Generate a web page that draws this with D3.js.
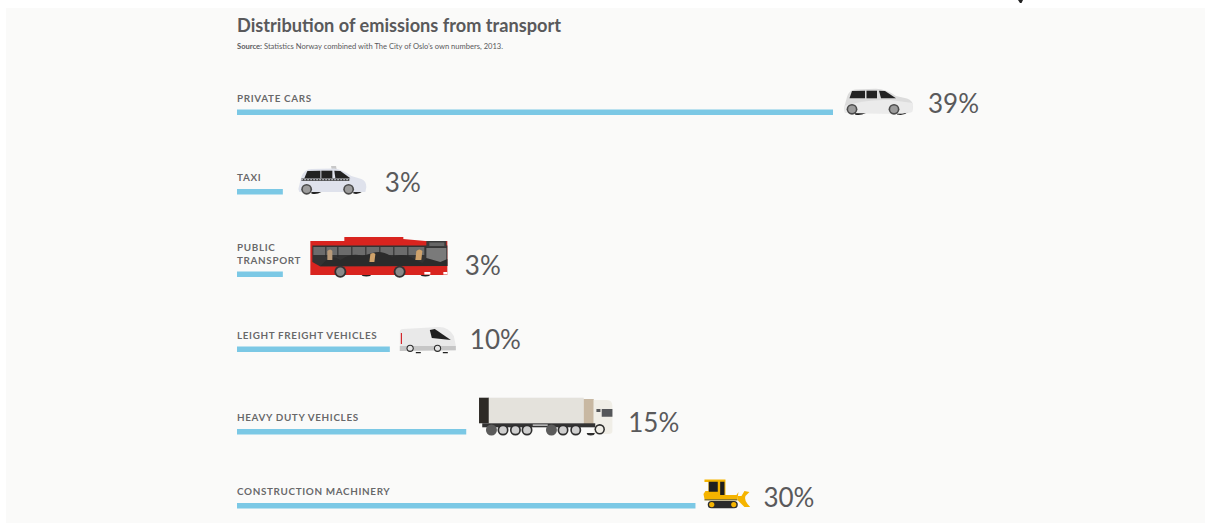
<!DOCTYPE html>
<html>
<head>
<meta charset="utf-8">
<script src="https://cdn.jsdelivr.net/npm/d3@7/dist/d3.min.js"></script>
<style>
  html, body { margin: 0; padding: 0; background: #fff; }
  svg { display: block; }
  text { font-family: "Lato", "Open Sans", sans-serif; fill: #59595b; }
</style>
</head>
<body>
<svg id="chart" width="1205" height="523"></svg>
<script>
// Share of transport emissions per category, in percent
const categories = ["PRIVATE CARS", "TAXI", "PUBLIC TRANSPORT", "LEIGHT FREIGHT VEHICLES", "HEAVY DUTY VEHICLES", "CONSTRUCTION MACHINERY"];
const shares = [39, 3, 3, 10, 15, 30];
const titleText = "Distribution of emissions from transport";
const sourceLead = "Source:";
const sourceText = " Statistics Norway combined with The City of Oslo’s own numbers, 2013.";

const W = 1205, H = 523;
const barHeight = 5.5;

// Row tops, vehicle placement and percent label placement relative to each bar
const rowTops = [109.5, 189, 271.5, 346.5, 429, 503];
const iconDrawers = [drawCar, drawTaxi, drawBus, drawVan, drawTruck, drawDozer];
const iconDx = [11, 15.5, 27.5, 9, 12.5, 8];
const iconDy = [-21.5, -23, -34.5, -19.5, -32, -24];
const valueDx = [95, 102, 182, 80, 162, 68];
const valueDy = [3.5, 3, 3.5, 2.5, 3, 4];

const svg = d3.select("#chart");
const x = d3.scaleLinear().domain([0, 39]).range([237, 833]);
const y = d3.scaleOrdinal().domain(categories).range(rowTops);

// Panel
svg.append("rect").attr("x", 6).attr("y", 8).attr("width", W - 6).attr("height", H - 8).attr("fill", "#fafaf9");
svg.append("path").attr("d", "M1018,0h5l-1.5,3h-1.5z").attr("fill", "#222");

// Heading
svg.append("text").attr("x", 237).attr("y", 32).attr("font-size", 18.5).attr("font-weight", 700)
  .attr("textLength", 324).attr("lengthAdjust", "spacingAndGlyphs").text(titleText);
const src = svg.append("text").attr("x", 237).attr("y", 48.5).attr("font-size", 7.4)
  .attr("textLength", 266).attr("lengthAdjust", "spacingAndGlyphs");
src.append("tspan").attr("font-weight", 700).text(sourceLead);
src.append("tspan").text(sourceText);

// Rows
const rows = svg.selectAll("g.row").data(categories.map((c, i) => ({ c, v: shares[i], i })))
  .join("g").attr("class", "row");

rows.append("rect")
  .attr("x", x(0))
  .attr("y", d => y(d.c))
  .attr("width", d => x(d.v) - x(0))
  .attr("height", barHeight)
  .attr("fill", "#7bc8e5");

rows.each(function (d) {
  const g = d3.select(this);
  const words = d.c === "PUBLIC TRANSPORT" ? ["PUBLIC", "TRANSPORT"] : [d.c];
  words.forEach((w, k) => {
    g.append("text")
      .attr("x", x(0))
      .attr("y", y(d.c) - 8 - (words.length - 1 - k) * 13)
      .attr("font-size", 9.9)
      .attr("font-weight", 700)
      .attr("letter-spacing", 0.65)
      .attr("fill-opacity", 0.92)
      .text(w);
  });
  const icon = g.append("g")
    .attr("transform", `translate(${x(d.v) + iconDx[d.i]},${y(d.c) + iconDy[d.i]})`);
  iconDrawers[d.i](icon);
  g.append("text")
    .attr("x", x(d.v) + valueDx[d.i])
    .attr("y", y(d.c) + valueDy[d.i])
    .attr("font-size", 26)
    .text(d.v + "%");
});

function shape(g, d, fill) { return g.append("path").attr("d", d).attr("fill", fill); }
function wheel(g, cx, cy, r, hub, tyre) {
  g.append("circle").attr("cx", cx).attr("cy", cy).attr("r", r).attr("fill", tyre);
  g.append("circle").attr("cx", cx).attr("cy", cy).attr("r", r * 0.7).attr("fill", hub);
}

// Estate car, side view
function drawCar(g) {
  shape(g, "M11,26.5Q16,28 22,25L11,25zM53,26.5Q60,28 64,24L53,24z", "#222");
  shape(g, "M0,20L3,9Q5,2 11,1.5L32,0.8Q42,1 52,8L63,10.5Q69,12.5 69,18L68,24L58,25.5L1,25z", "#dcdcdc");
  shape(g, "M0,18Q22,11 46,12L69,15L69,18L68,24L58,25.5L1,25z", "#ebebeb");
  shape(g, "M8,3L21,2.7L21,10.3L5.5,10.3z", "#232323");
  shape(g, "M22.5,2.7L33,2.7L33,10.3L22.5,10.3z", "#232323");
  shape(g, "M35,2.7L41,3L52,10.3L37,10.3z", "#232323");
  wheel(g, 8, 21.3, 5.4, "#9c9c9c", "#4a4a4a");
  wheel(g, 50, 21.3, 5.4, "#9c9c9c", "#4a4a4a");
}

// Taxi with roof sign and chequered strip
function drawTaxi(g) {
  shape(g, "M13,27.5Q18,29 23,26L13,26zM55,27.5Q60,29 65,25L55,25z", "#222");
  shape(g, "M32.7,0h5l0.5,3h-5z", "#c8c8c8");
  shape(g, "M0,23L3,11Q6,3 13,3L36,2.5Q43,3 53,10L63,13Q68,15 68,21L67,26L1,26z", "#dfe2ec");
  shape(g, "M9,5L22,4.7L22,12.3L6,12.3z", "#222");
  shape(g, "M23,4.7L34,4.7L34,12.3L23,12.3z", "#222");
  shape(g, "M36,4.7L42,5L52,12.3L37,12.3z", "#222");
  g.append("rect").attr("x", 3).attr("y", 12.5).attr("width", 48).attr("height", 2.4)
    .attr("fill", "#444");
  g.append("line").attr("x1", 3).attr("x2", 51).attr("y1", 13.7).attr("y2", 13.7)
    .attr("stroke", "#dfe2ec").attr("stroke-width", 1).attr("stroke-dasharray", "1.5,1.5");
  wheel(g, 8.3, 23.3, 5.4, "#9c9c9c", "#4a4a4a");
  wheel(g, 50.3, 23.3, 5.4, "#9c9c9c", "#4a4a4a");
}

// City bus with passengers in the windows
function drawBus(g) {
  shape(g, "M51,37a5,2.5 0 0 0 10,0zM110,37a5,2.5 0 0 0 10,0z", "#222");
  shape(g, "M34,4L34,0L93,0L93,2L115,4L137,4L137,38L0,38L0,4z", "#d9241f");
  shape(g, "M2,8.5L137,8.5L137,29L10,29.5L2,25z", "#333");
  // glazing, divided by thin pillars
  shape(g, "M3,10L114,10L114,18L3,18z", "#6c6c6c");
  shape(g, "M116,11L136,11L136,26L116,26z", "#7a7a7a");
  [15, 27, 41, 55, 69, 83, 97].forEach(px => g.append("rect").attr("x", px).attr("y", 10).attr("width", 1).attr("height", 10).attr("fill", "#2a2a2a"));
  shape(g, "M116,4L136,4L136,10.5L116,10.5z", "#3a3a3a");
  g.append("rect").attr("x", 119).attr("y", 5.5).attr("width", 15).attr("height", 3.5).attr("fill", "#666");
  // passengers' silhouettes
  shape(g, "M10,29L16,23Q24,18 30,23Q42,15 52,19L62,16Q72,13 82,20Q92,15 104,22L112,26L116,21L130,25L137,22L137,29z", "#2b2b2b");
  shape(g, "M17,14q3,-3 5,0v9h-5z", "#b99a78");
  shape(g, "M60,17q3,-2 5,0l-1,8h-5z", "#cfa26a");
  shape(g, "M106,14q3,-3 6,0l-1,9h-6z", "#cfa26a");
  g.append("rect").attr("x", 114).attr("y", 35).attr("width", 6).attr("height", 2.5).attr("fill", "#fff");
  g.append("rect").attr("x", 133).attr("y", 35).attr("width", 4).attr("height", 2.5).attr("fill", "#fff");
  wheel(g, 30, 34.7, 6, "#8a8a8a", "#333");
  wheel(g, 89.3, 34.7, 6, "#8a8a8a", "#333");
}

// Delivery van
function drawVan(g) {
  shape(g, "M1,5Q1,2 4,2L40,0Q50,0 55,9L57,19L57,24L1,24z", "#e9e9e9");
  shape(g, "M1,19L57,19L57,23L1,24z", "#c6c6c6");
  shape(g, "M31,3L36,2L52,13L33,11z", "#1f1f1f");
  shape(g, "M2,6h1.2v11h-1.2z", "#d4262c");
  shape(g, "M17,25h5v1.2h-5zM44,25h5v1.2h-5z", "#222");
  wheel(g, 11.3, 21.3, 3.6, "#e4e4e4", "#2a2a2a");
  wheel(g, 38.7, 21.3, 3.6, "#e4e4e4", "#2a2a2a");
}

// Articulated lorry with box trailer
function drawTruck(g) {
  g.append("rect").attr("x", 0.3).attr("y", 0.7).attr("width", 10).attr("height", 25.6).attr("fill", "#2d2a26");
  g.append("rect").attr("x", 10).attr("y", 0.7).attr("width", 95).attr("height", 25.6).attr("fill", "#e4e2dc");
  g.append("rect").attr("x", 105).attr("y", 2).attr("width", 10).attr("height", 27).attr("fill", "#c8b8a2");
  shape(g, "M115,3L128,3Q133.7,3 133.7,9L133.7,34Q133.7,37 130,37L115,37z", "#f0eee7");
  g.append("rect").attr("x", 3.5).attr("y", 26.3).attr("width", 113).attr("height", 4).attr("fill", "#333");
  g.append("rect").attr("x", 54).attr("y", 27.5).attr("width", 15).attr("height", 1.2).attr("fill", "#e9e9e9");
  shape(g, "M117.7,12h4v3h-4zM123,12h10.7v7.7h-10.7z", "#55575a");
  [12.7, 72.7].forEach(c => g.append("circle").attr("cx", c).attr("cy", 33).attr("r", 5.5).attr("fill", "#5b5b5b"));
  [24.3, 36.7, 48.3, 84.3, 97].forEach(c => wheel(g, c, 33, 5.5, "#cfcfcf", "#2e2e2e"));
  shape(g, "M108,36a4,2.5 0 0 0 8,0z", "#2e2e2e");
  wheel(g, 121, 32.3, 5.2, "#f0eee7", "#2e2e2e");
}

// Bulldozer with tracks and front blade
function drawDozer(g) {
  shape(g, "M1,0.5L22,0.5L22,16L33,16L35,13L34,20L1,20L0,15L2,12L5,12L5,3L1,3z", "#f5b400");
  shape(g, "M5.3,2.7h9v10h-9zM16.7,2.7h4.3v13.3h-4.3z", "#1f1f1f");
  shape(g, "M1,20L34,20L34,21.5L1,21.5z", "#8c7a2e");
  g.append("rect").attr("x", 4.3).attr("y", 22).attr("width", 30).attr("height", 7.3).attr("rx", 3.6).attr("fill", "#2b2b2b");
  [8.3, 30.3].forEach(c => g.append("circle").attr("cx", c).attr("cy", 25.6).attr("r", 2.6).attr("fill", "#f5b400"));
  shape(g, "M34,17L38,17L41,12L46,13L42,17Q40,21 46.7,28L41,28Q37,24 34,21z", "#f5b400");
}
</script>
</body>
</html>
